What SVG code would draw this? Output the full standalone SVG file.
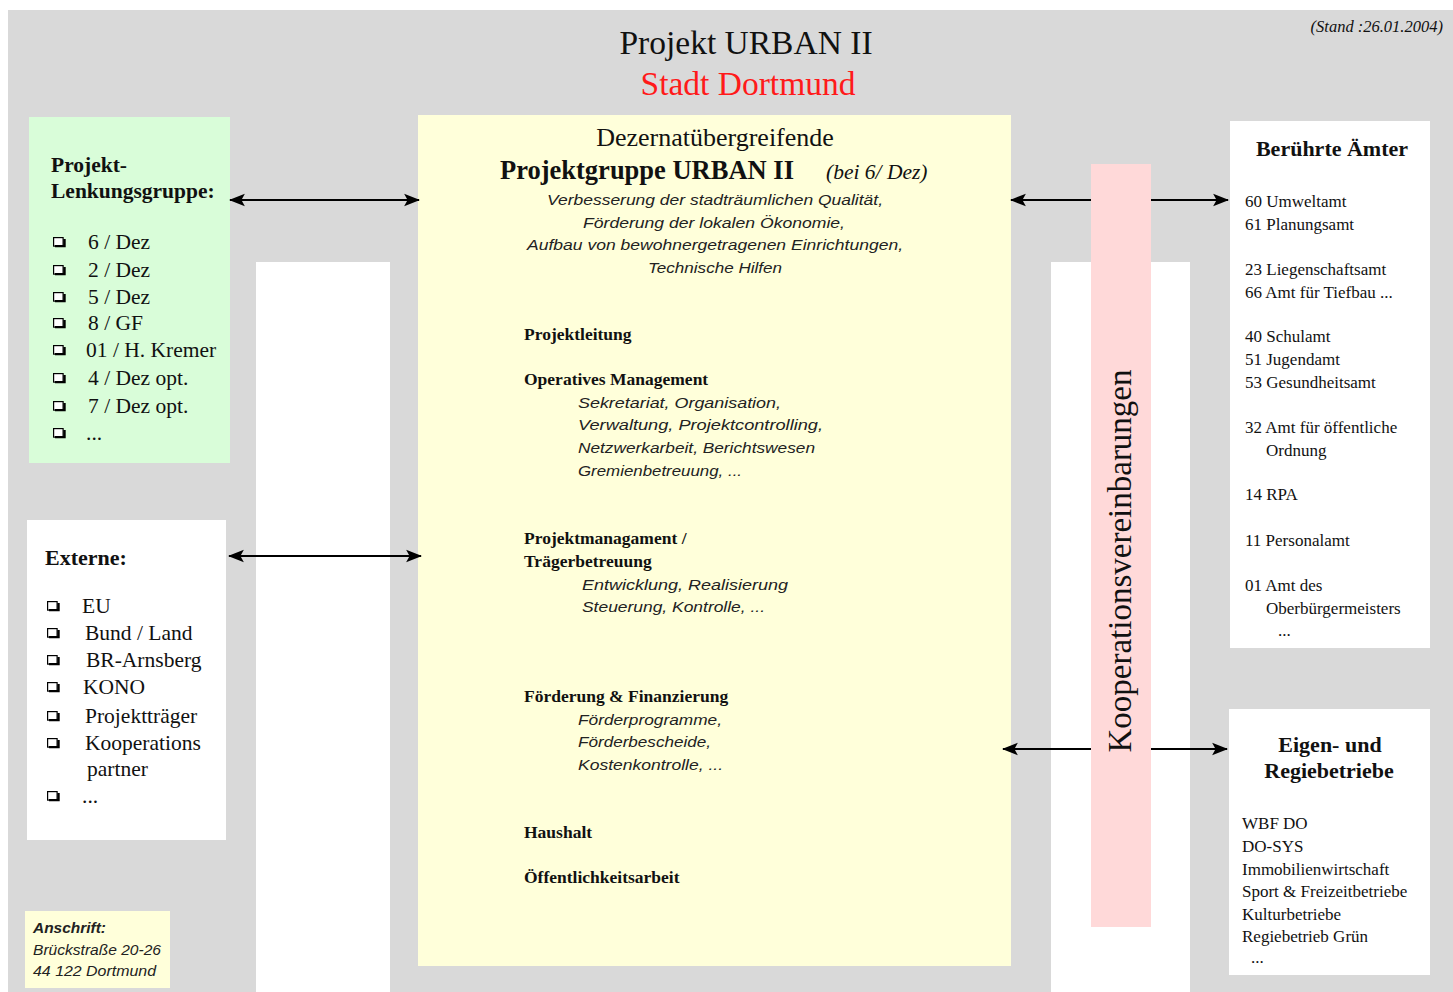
<svg xmlns="http://www.w3.org/2000/svg" width="1453" height="992" viewBox="0 0 1453 992">
<style>
.serif{font-family:"Liberation Serif","Times New Roman",serif;fill:#111}
.b{font-weight:bold}
.it{font-family:"Liberation Sans",Arial,sans-serif;font-style:italic;fill:#222;font-size:15.5px}
.lst{font-family:"Liberation Serif",serif;font-size:21.5px;fill:#111}
.amt{font-family:"Liberation Serif",serif;font-size:17px;fill:#111}
.hd{font-family:"Liberation Serif",serif;font-size:17.5px;font-weight:bold;fill:#111}
.conn{stroke:#000;stroke-width:2;fill:none}
</style>
<defs>
<marker id="ah" viewBox="0 0 14 12" refX="13" refY="6" markerWidth="16" markerHeight="14" markerUnits="userSpaceOnUse" orient="auto-start-reverse">
<path d="M0,0.5 L14,6 L0,11.5 L3,6 Z" fill="#000"/>
</marker>
<g id="cb">
<rect x="0.6" y="0.6" width="9.5" height="8.5" fill="#fff" stroke="#000" stroke-width="1.2"/>
<path d="M2,9.1 H11.5 V2" fill="none" stroke="#000" stroke-width="2.4"/>
</g>
</defs>
<rect x="0" y="0" width="1453" height="992" fill="#ffffff"/>
<rect x="8" y="10" width="1445" height="982" fill="#d9d9d9"/>
<g id="strips">
<rect x="256" y="262" width="134" height="730" fill="#ffffff"/>
<rect x="1051" y="262" width="139" height="730" fill="#ffffff"/>
</g>
<g id="title">
<text class="serif" x="746" y="54" font-size="33.5" text-anchor="middle">Projekt URBAN II</text>
<text x="748" y="95" font-size="33.5" text-anchor="middle" font-family="Liberation Serif,serif" fill="#ff1a1a">Stadt Dortmund</text>
<text class="serif" x="1443" y="32" font-size="16.5" font-style="italic" text-anchor="end" fill="#333">(Stand :26.01.2004)</text>
</g>
<g id="lenkungsgruppe">
<rect x="29" y="117" width="201" height="346" fill="#d9fdd9"/>
<text class="serif b" x="51" y="172" font-size="21.5">Projekt-</text>
<text class="serif b" x="51" y="198" font-size="21.5">Lenkungsgruppe:</text>
<use href="#cb" x="53" y="237"/><use href="#cb" x="53" y="265"/><use href="#cb" x="53" y="292"/><use href="#cb" x="53" y="318"/><use href="#cb" x="53" y="345"/><use href="#cb" x="53" y="373"/><use href="#cb" x="53" y="401"/><use href="#cb" x="53" y="428"/>
<text class="lst" x="88" y="249">6 / Dez</text>
<text class="lst" x="88" y="277">2 / Dez</text>
<text class="lst" x="88" y="304">5 / Dez</text>
<text class="lst" x="88" y="330">8 / GF</text>
<text class="lst" x="86" y="357">01 / H. Kremer</text>
<text class="lst" x="88" y="385">4 / Dez opt.</text>
<text class="lst" x="88" y="413">7 / Dez opt.</text>
<text class="lst" x="86" y="440">...</text>
</g>
<g id="externe">
<rect x="27" y="520" width="199" height="320" fill="#ffffff"/>
<text class="serif b" x="45" y="565" font-size="22">Externe:</text>
<use href="#cb" x="47" y="601"/><use href="#cb" x="47" y="628"/><use href="#cb" x="47" y="655"/><use href="#cb" x="47" y="682"/><use href="#cb" x="47" y="711"/><use href="#cb" x="47" y="738"/><use href="#cb" x="47" y="791"/>
<text class="lst" x="82" y="613">EU</text>
<text class="lst" x="85" y="640">Bund / Land</text>
<text class="lst" x="86" y="667">BR-Arnsberg</text>
<text class="lst" x="83" y="694">KONO</text>
<text class="lst" x="85" y="723">Projektträger</text>
<text class="lst" x="85" y="750">Kooperations</text>
<text class="lst" x="87" y="776">partner</text>
<text class="lst" x="82" y="803">...</text>
</g>
<g id="anschrift">
<rect x="25" y="911" width="145" height="77" fill="#ffffda"/>
<text class="it" x="33" y="933" font-weight="bold" font-size="15" textLength="73" lengthAdjust="spacingAndGlyphs">Anschrift:</text>
<text class="it" x="33" y="955" font-size="15" textLength="128" lengthAdjust="spacingAndGlyphs">Brückstraße 20-26</text>
<text class="it" x="33" y="976" font-size="15" textLength="123" lengthAdjust="spacingAndGlyphs">44 122 Dortmund</text>
</g>
<g id="projektgruppe">
<rect x="418" y="115" width="593" height="851" fill="#ffffda"/>
<text class="serif" x="715" y="146" font-size="26" text-anchor="middle">Dezernatübergreifende</text>
<text class="serif b" x="500" y="179" font-size="26.5">Projektgruppe URBAN II</text>
<text class="serif" x="826" y="179" font-size="21.5" font-style="italic">(bei 6/ Dez)</text>
<text class="it" x="715" y="205" text-anchor="middle" textLength="336" lengthAdjust="spacingAndGlyphs">Verbesserung der stadträumlichen Qualität,</text>
<text class="it" x="714" y="228" text-anchor="middle" textLength="262" lengthAdjust="spacingAndGlyphs">Förderung der lokalen Ökonomie,</text>
<text class="it" x="715" y="250" text-anchor="middle" textLength="376" lengthAdjust="spacingAndGlyphs">Aufbau von bewohnergetragenen Einrichtungen,</text>
<text class="it" x="715" y="273" text-anchor="middle" textLength="134" lengthAdjust="spacingAndGlyphs">Technische Hilfen</text>
<text class="hd" x="524" y="340">Projektleitung</text>
<text class="hd" x="524" y="385">Operatives Management</text>
<text class="it" x="578" y="408" textLength="203" lengthAdjust="spacingAndGlyphs">Sekretariat, Organisation,</text>
<text class="it" x="578" y="430" textLength="245" lengthAdjust="spacingAndGlyphs">Verwaltung, Projektcontrolling,</text>
<text class="it" x="578" y="453" textLength="237" lengthAdjust="spacingAndGlyphs">Netzwerkarbeit, Berichtswesen</text>
<text class="it" x="578" y="476" textLength="164" lengthAdjust="spacingAndGlyphs">Gremienbetreuung, ...</text>
<text class="hd" x="524" y="544">Projektmanagament /</text>
<text class="hd" x="524" y="567">Trägerbetreuung</text>
<text class="it" x="582" y="590" textLength="206" lengthAdjust="spacingAndGlyphs">Entwicklung, Realisierung</text>
<text class="it" x="582" y="612" textLength="183" lengthAdjust="spacingAndGlyphs">Steuerung, Kontrolle, ...</text>
<text class="hd" x="524" y="702">Förderung &amp; Finanzierung</text>
<text class="it" x="578" y="725" textLength="144" lengthAdjust="spacingAndGlyphs">Förderprogramme,</text>
<text class="it" x="578" y="747" textLength="133" lengthAdjust="spacingAndGlyphs">Förderbescheide,</text>
<text class="it" x="578" y="770" textLength="145" lengthAdjust="spacingAndGlyphs">Kostenkontrolle, ...</text>
<text class="hd" x="524" y="838">Haushalt</text>
<text class="hd" x="524" y="883">Öffentlichkeitsarbeit</text>
</g>
<g id="aemter">
<rect x="1230" y="121" width="200" height="527" fill="#ffffff"/>
<text class="serif b" x="1332" y="156" font-size="22" text-anchor="middle">Berührte Ämter</text>
<text class="amt" x="1245" y="207">60 Umweltamt</text>
<text class="amt" x="1245" y="230">61 Planungsamt</text>
<text class="amt" x="1245" y="275">23 Liegenschaftsamt</text>
<text class="amt" x="1245" y="298">66 Amt für Tiefbau ...</text>
<text class="amt" x="1245" y="342">40 Schulamt</text>
<text class="amt" x="1245" y="365">51 Jugendamt</text>
<text class="amt" x="1245" y="388">53 Gesundheitsamt</text>
<text class="amt" x="1245" y="433">32 Amt für öffentliche</text>
<text class="amt" x="1266" y="456">Ordnung</text>
<text class="amt" x="1245" y="500">14 RPA</text>
<text class="amt" x="1245" y="546">11 Personalamt</text>
<text class="amt" x="1245" y="591">01 Amt des</text>
<text class="amt" x="1266" y="614">Oberbürgermeisters</text>
<text class="amt" x="1278" y="636">...</text>
</g>
<g id="betriebe">
<rect x="1229" y="709" width="201" height="266" fill="#ffffff"/>
<text class="serif b" x="1330" y="752" font-size="22" text-anchor="middle">Eigen- und</text>
<text class="serif b" x="1329" y="778" font-size="22" text-anchor="middle">Regiebetriebe</text>
<text class="amt" x="1242" y="829">WBF DO</text>
<text class="amt" x="1242" y="852">DO-SYS</text>
<text class="amt" x="1242" y="875">Immobilienwirtschaft</text>
<text class="amt" x="1242" y="897">Sport &amp; Freizeitbetriebe</text>
<text class="amt" x="1242" y="920">Kulturbetriebe</text>
<text class="amt" x="1242" y="942">Regiebetrieb Grün</text>
<text class="amt" x="1251" y="963">...</text>
</g>
<g id="connectors">
<line class="conn" x1="230" y1="200" x2="419" y2="200" marker-start="url(#ah)" marker-end="url(#ah)"/>
<line class="conn" x1="229" y1="556" x2="421" y2="556" marker-start="url(#ah)" marker-end="url(#ah)"/>
<line class="conn" x1="1011" y1="200" x2="1228" y2="200" marker-start="url(#ah)" marker-end="url(#ah)"/>
<line class="conn" x1="1003" y1="749" x2="1227" y2="749" marker-start="url(#ah)" marker-end="url(#ah)"/>
</g>
<g id="kooperation">
<rect x="1091" y="164" width="60" height="763" fill="#ffd9d9"/>
<text class="serif" transform="translate(1131,561) rotate(-90)" x="0" y="0" font-size="33" text-anchor="middle" fill="#222">Kooperationsvereinbarungen</text>
</g>
</svg>
